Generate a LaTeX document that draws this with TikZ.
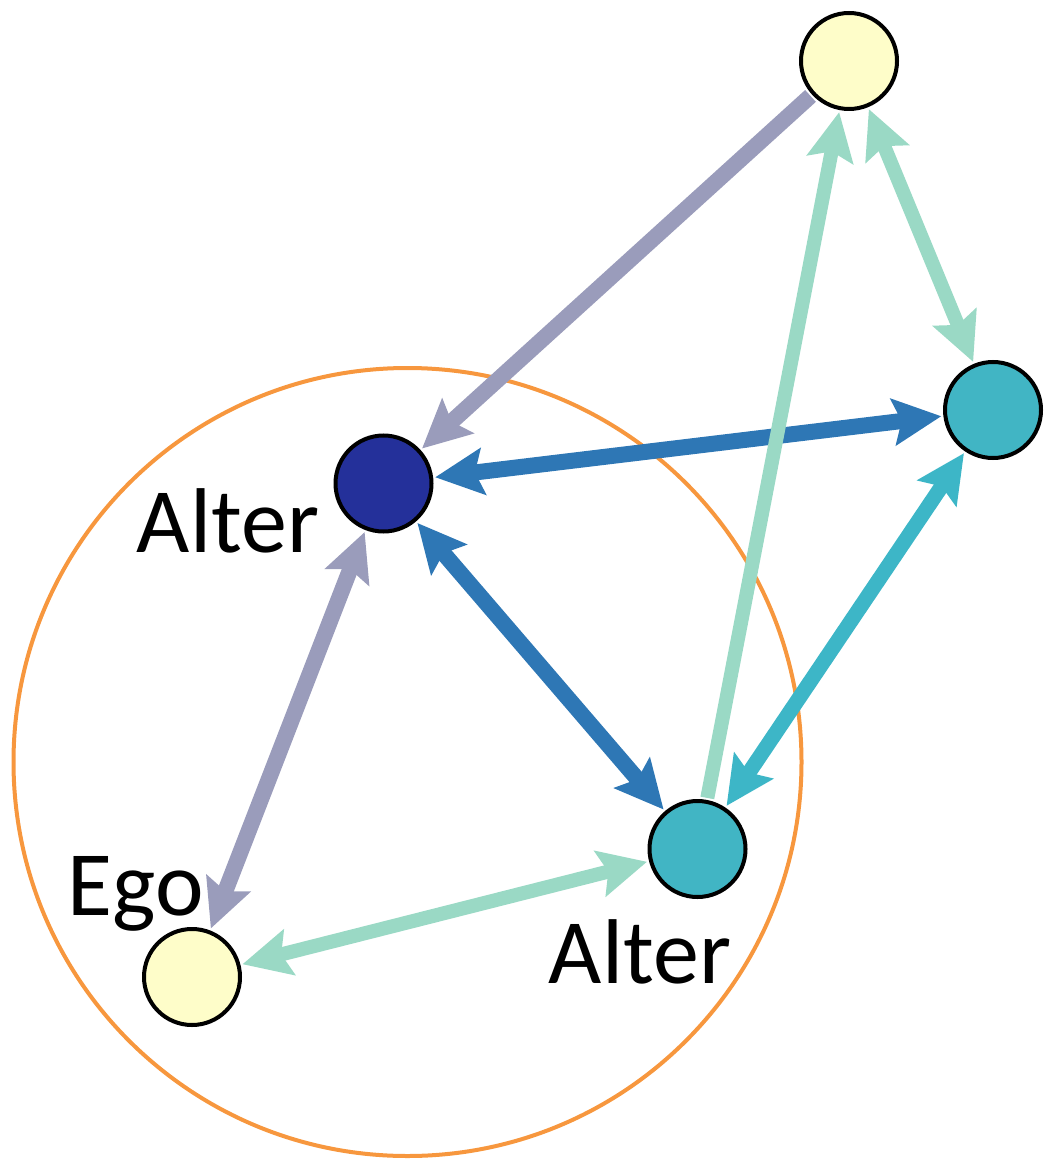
\documentclass[tikz,border=0pt]{standalone}
\usepackage{fontspec}
\setmainfont{Carlito}
\usetikzlibrary{arrows.meta}
\definecolor{cyel}{HTML}{FEFDC9}
\definecolor{cteal}{HTML}{41B5C4}
\definecolor{cdark}{HTML}{24309A}
\definecolor{cgrey}{HTML}{9A9CBB}
\definecolor{cblue}{HTML}{2E77B5}
\definecolor{cmint}{HTML}{9AD9C5}
\definecolor{ctealedge}{HTML}{3DB6C7}
\definecolor{corange}{HTML}{F7973E}
\tikzset{
  netnode/.style={circle, draw=black, line width=2pt, minimum size=48pt, inner sep=0pt},
  ahead/.tip={Stealth[length=24pt, width=23pt, inset=4pt]},
  edgebase/.style={shorten >=1pt, shorten <=1pt},
  gedge/.style={edgebase, draw=cgrey, line width=8pt},
  bedge/.style={edgebase, draw=cblue, line width=8pt},
  medge/.style={edgebase, draw=cmint, line width=7pt},
  tedge/.style={edgebase, draw=ctealedge, line width=7.5pt},
  lbl/.style={font=\fontsize{46pt}{50pt}\selectfont, anchor=base, inner sep=0pt}
}
\begin{document}
\begin{tikzpicture}[x=0.5pt, y=-0.5pt]
\useasboundingbox (0,0) rectangle (1047,1160);
% group circle
\draw[corange, line width=2pt] (407.5,762) circle[radius=197pt];
% nodes
\node[netnode, fill=cyel] (top) at (849,61) {};
\node[netnode, fill=cteal] (right) at (993,410) {};
\node[netnode, fill=cdark] (alterA) at (383.5,483.5) {};
\node[netnode, fill=cteal] (alterB) at (697.5,849) {};
\node[netnode, fill=cyel] (ego) at (192,977) {};
% edges
\draw[gedge, -ahead] (top) -- (alterA);
\draw[bedge, ahead-ahead] (alterA) -- (right);
\draw[bedge, ahead-ahead] (alterA) -- (alterB);
\draw[gedge, ahead-ahead] (alterA) -- (ego);
\draw[medge, ahead-ahead] (ego) -- (alterB);
\draw[medge, -ahead] (alterB) -- (top);
\draw[medge, ahead-ahead] (top) -- (right);
\draw[tedge, ahead-ahead] (right) -- (alterB);
% labels
\node[lbl] (lalterA) at (228,552) {Alter};
\node[lbl] (lego) at (136,915) {Ego};
\node[lbl] (lalterB) at (640,983) {Alter};
\end{tikzpicture}
\end{document}
